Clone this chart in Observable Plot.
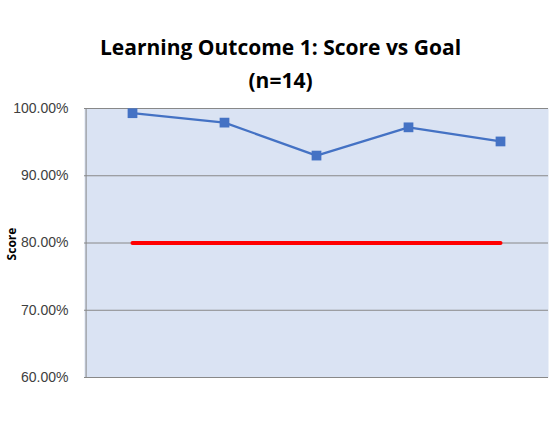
<!DOCTYPE html>
<html>
<head>
<meta charset="utf-8">
<script src="https://cdn.jsdelivr.net/npm/d3@7"></script>
<script src="https://cdn.jsdelivr.net/npm/@observablehq/plot@0.6"></script>
<style>
  html, body { margin: 0; padding: 0; background: #ffffff; }
  #title {
    width: 555px; height: 100px; box-sizing: border-box;
    padding-top: 31px; text-align: center;
    font-family: "Open Sans", "Liberation Sans", sans-serif;
    font-weight: bold; font-size: 21px; line-height: 33px; color: #000;
    padding-left: 6px;
  }
</style>
</head>
<body>
<div id="title">Learning Outcome 1: Score vs Goal<br>(n=14)</div>
<div id="chart"></div>
<script>
const categories = ["1", "2", "3", "4", "5"];
const scores = [0.993, 0.979, 0.930, 0.972, 0.951];
const goals = [0.80, 0.80, 0.80, 0.80, 0.80];
const yTicks = [0.6, 0.7, 0.8, 0.9, 1.0];

const scoreData = categories.map((c, i) => ({cat: c, value: scores[i]}));
const goalData = categories.map((c, i) => ({cat: c, value: goals[i]}));

const chart = Plot.plot({
  width: 555,
  height: 344,
  marginLeft: 84,
  marginRight: 7,
  marginTop: 8,
  marginBottom: 67,
  style: {fontFamily: "'Liberation Sans', Arial, sans-serif", fontSize: "14px", color: "#404040", background: "#ffffff"},
  x: {type: "point", domain: categories, padding: 0.5, axis: null},
  y: {domain: [0.6, 1.0], ticks: yTicks, tickFormat: d => (d * 100).toFixed(2) + "%", label: null},
  marks: [
    Plot.frame({fill: "#dae3f3", stroke: null}),
    Plot.gridY(yTicks, {stroke: "#888888", strokeOpacity: 1, strokeWidth: 1}),
    Plot.ruleX([categories[0]], {dx: -46.4, stroke: "#888888", strokeWidth: 1}),
    Plot.axisY(yTicks, {tickSize: 0, tickPadding: 16, tickFormat: d => (d * 100).toFixed(2) + "%", label: null}),
    Plot.lineY(goalData, {x: "cat", y: "value", stroke: "#ff0000", strokeWidth: 4, strokeLinecap: "round"}),
    Plot.lineY(scoreData, {x: "cat", y: "value", stroke: "#4472c4", strokeWidth: 2.25}),
    Plot.dot(scoreData, {x: "cat", y: "value", symbol: "square", r: 5.5, fill: "#4472c4", stroke: null})
  ]
});

// Rotated "Score" axis title
const svg = d3.select(chart);
svg.append("text")
  .attr("transform", "translate(16,144) rotate(-90)")
  .attr("text-anchor", "middle")
  .attr("font-family", "'Open Sans', 'Liberation Sans', sans-serif")
  .attr("font-weight", "bold")
  .attr("font-size", "12px")
  .attr("fill", "#000")
  .text("Score");

document.getElementById("chart").appendChild(chart);
</script>
</body>
</html>
